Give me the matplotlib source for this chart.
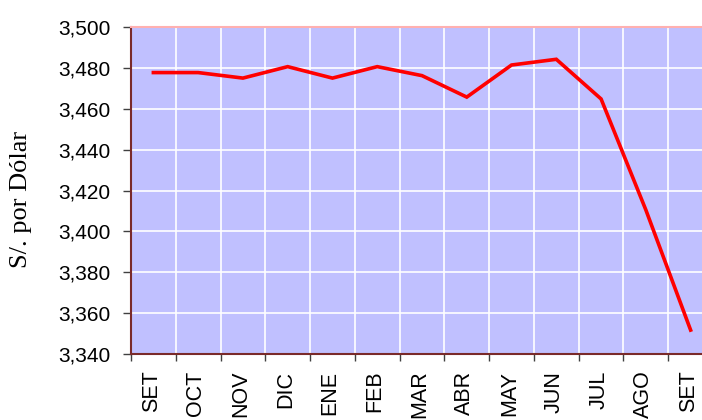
import numpy as np
import matplotlib.pyplot as plt

meses = ['SET', 'OCT', 'NOV', 'DIC', 'ENE', 'FEB', 'MAR', 'ABR', 'MAY', 'JUN', 'JUL', 'AGO', 'SET']
tipo_cambio = [3.4777, 3.4777, 3.4750, 3.4806, 3.4750, 3.4806, 3.4762, 3.4657,
               3.4814, 3.4842, 3.4648, 3.4105, 3.3517]

fig = plt.figure(figsize=(7.02, 4.2), dpi=100)
# axes extends past the right edge, like the original (cropped)
ax = fig.add_axes([131 / 702, 66 / 420, 582 / 702, 327 / 420])

x = np.arange(len(meses)) + 0.5
ax.set_facecolor('#C0C0FF')
ax.plot(x, tipo_cambio, color='#FF0000', lw=2.6, solid_joinstyle='miter')

ax.set_xlim(0, len(meses))
ax.set_ylim(3.34, 3.50)
ax.set_yticks(np.arange(3.34, 3.5001, 0.02))
ax.set_yticklabels([f'{v:.3f}'.replace('.', ',') for v in np.arange(3.34, 3.5001, 0.02)])

ax.set_xticks(np.arange(len(meses) + 1))
ax.set_xticklabels([])
ax.set_xticks(x - 0.05, minor=True)
ax.set_xticklabels(meses, minor=True, rotation=90, va='top', ha='center',
                   fontsize=15.5, family='Liberation Sans')

ax.grid(True, color='white', lw=1.2)
ax.set_axisbelow(True)

ax.tick_params(axis='y', direction='out', length=5.5, width=1, color='#404040',
               pad=9, labelsize=15)
ax.tick_params(axis='x', which='major', direction='out', length=5, width=1, color='#404040')
ax.tick_params(axis='x', which='minor', length=0, pad=12)
for lbl in ax.get_yticklabels():
    lbl.set_family('Liberation Sans')

ax.spines['left'].set_color('#7A2A2A')
ax.spines['bottom'].set_color('#7A2A2A')
ax.spines['left'].set_linewidth(1.5)
ax.spines['bottom'].set_linewidth(1.5)
ax.spines['top'].set_color('#FFB0B0')
ax.spines['top'].set_linewidth(1.5)
ax.spines['right'].set_visible(False)

fig.text(21 / 702, 0.524, 'S/. por Dólar', rotation=90, ha='center', va='center',
         fontsize=19, family='Liberation Serif')

fig.savefig('out.png', dpi=100)
